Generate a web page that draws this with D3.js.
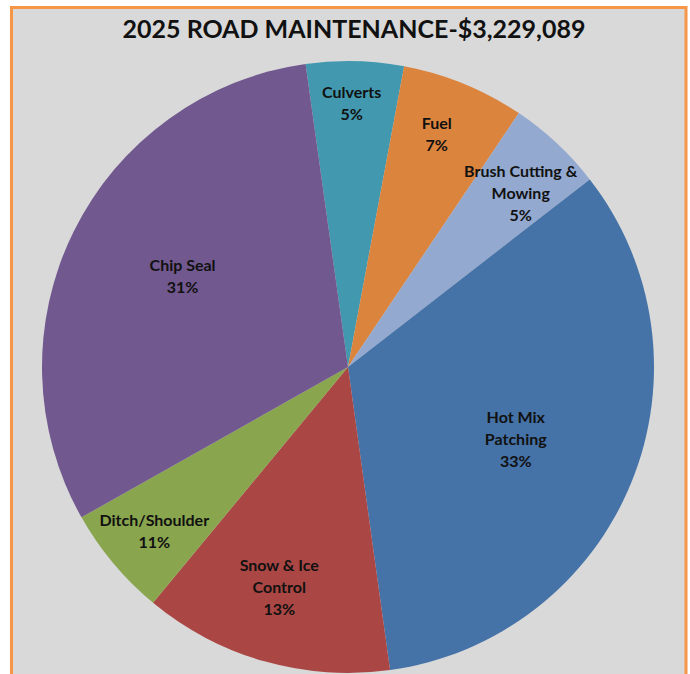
<!DOCTYPE html>
<html>
<head>
<meta charset="utf-8">
<script src="https://cdn.jsdelivr.net/npm/d3@7"></script>
<style>
  body { margin: 0; background: #fff; }
  svg { display: block; }
  text { font-family: Lato, "Open Sans", sans-serif; font-weight: bold; fill: #111; }
</style>
</head>
<body>
<div id="chart"></div>
<script>
// slice order, clockwise from the Chip Seal / Culverts edge
const categories = ["Culverts", "Fuel", "Brush Cutting & Mowing", "Hot Mix Patching",
  "Snow & Ice Control", "Ditch/Shoulder", "Chip Seal"];
// share of budget (%)
const shares = [5.15, 6.49, 5.07, 33.31, 13.19, 5.83, 30.96];
// percent labels as printed on the chart
const pctLabels = ["5%", "7%", "5%", "33%", "13%", "11%", "31%"];
// how each category name breaks into lines
const nameLines = [["Culverts"], ["Fuel"], ["Brush Cutting &", "Mowing"], ["Hot Mix", "Patching"],
  ["Snow & Ice", "Control"], ["Ditch/Shoulder"], ["Chip Seal"]];
const colors = ["#4198AF", "#DB843D", "#93A9CF", "#4572A7", "#AA4643", "#89A54E", "#71588F"];

const title = "2025 ROAD MAINTENANCE-$3,229,089";

const width = 690, height = 674;
const cx = 348, cy = 367, radius = 306;
const startDeg = -7.97;
// label placement (Excel best fit): distance as fraction of radius,
// and position across the slice (0 = start edge, 1 = end edge)
const labelFrac = [0.864, 0.815, 0.803, 0.596, 0.751, 0.829, 0.618];
const labelT = [0.473, 0.439, 0.587, 0.508, 0.533, 0.486, 0.524];
const lineH = 22;

const svg = d3.select("#chart").append("svg")
  .attr("width", width)
  .attr("height", height);

// chart area + orange frame (bottom runs off the picture)
svg.append("rect")
  .attr("x", 11.5)
  .attr("y", 7.5)
  .attr("width", 674.5)
  .attr("height", 700)
  .style("fill", "#D9D9D9")
  .style("stroke", "#F79646")
  .style("stroke-width", 3);

svg.append("text")
  .attr("x", 354)
  .attr("y", 38)
  .attr("text-anchor", "middle")
  .style("font-size", "25px")
  .text(title);

const data = categories.map((c, i) => ({ name: c, value: shares[i], i }));

const a0 = startDeg * Math.PI / 180;
const pie = d3.pie()
  .sort(null)
  .value((d) => d.value)
  .startAngle(a0)
  .endAngle(a0 + 2 * Math.PI);

const arc = d3.arc().innerRadius(0).outerRadius(radius);

const g = svg.append("g").attr("transform", "translate(" + cx + "," + cy + ")");
const arcs = pie(data);

g.selectAll("path")
  .data(arcs)
  .join("path")
  .attr("d", arc)
  .style("fill", (d) => colors[d.data.i]);

const labels = g.selectAll("g.label")
  .data(arcs)
  .join("g")
  .attr("class", "label")
  .attr("transform", (d) => {
    const i = d.data.i;
    const a = d.startAngle + (d.endAngle - d.startAngle) * labelT[i];
    const r = radius * labelFrac[i];
    return "translate(" + r * Math.sin(a) + "," + -r * Math.cos(a) + ")";
  });

labels.each(function (d) {
  const lines = nameLines[d.data.i].concat([pctLabels[d.data.i]]);
  const n = lines.length;
  d3.select(this).selectAll("text")
    .data(lines)
    .join("text")
    .attr("text-anchor", "middle")
    .attr("dominant-baseline", "central")
    .attr("y", (t, k) => (k - (n - 1) / 2) * lineH)
    .style("font-size", "16px")
    .text((t) => t);
});
</script>
</body>
</html>
